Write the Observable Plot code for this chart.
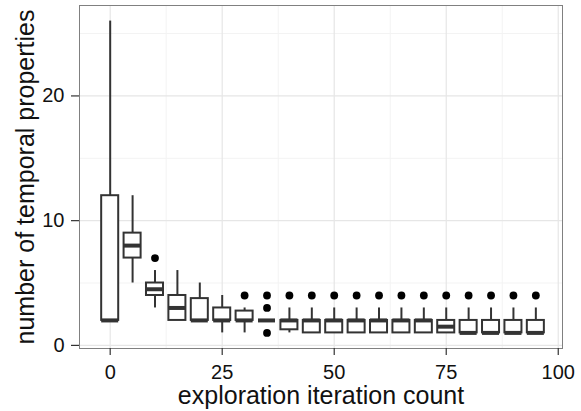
<!DOCTYPE html>
<html>
<head>
<meta charset="utf-8">
<script src="https://cdn.jsdelivr.net/npm/d3@7"></script>
<script src="https://cdn.jsdelivr.net/npm/@observablehq/plot@0.6"></script>
<style>
  html, body { margin: 0; padding: 0; background: #fff; }
  #chart svg { display: block; }
</style>
</head>
<body>
<div id="chart"></div>
<script>
// Iteration counts (box positions)
const iterations = [0, 5, 10, 15, 20, 25, 30, 35, 40, 45, 50, 55, 60, 65, 70, 75, 80, 85, 90, 95];
// Box statistics
const whiskerLow  = [2, 5, 3, 2, 2,    1, 1,    2, 1,    1, 1, 1, 1, 1, 1, 1,   1, 1, 1, 1];
const q1          = [2, 7, 4, 2, 2,    2, 2,    2, 1.25, 1, 1, 1, 1, 1, 1, 1,   1, 1, 1, 1];
const medians     = [2, 8, 4.5, 3, 2,  2, 2,    2, 2,    2, 2, 2, 2, 2, 2, 1.5, 1, 1, 1, 1];
const q3          = [12, 9, 5, 4, 3.75, 3, 2.75, 2, 2,   2, 2, 2, 2, 2, 2, 2,   2, 2, 2, 2];
const whiskerHigh = [26, 12, 6, 6, 5,  4, 3,    2, 3,    3, 3, 3, 3, 3, 3, 3,   3, 3, 3, 3];
// Outliers
const outlierX = [10, 30, 35, 35, 35, 40, 45, 50, 55, 60, 65, 70, 75, 80, 85, 90, 95];
const outlierY = [7,  4,  1,  3,  4,  4,  4,  4,  4,  4,  4,  4,  4,  4,  4,  4,  4];
// Axis ticks and grid
const xTicks = [0, 25, 50, 75, 100];
const xMinor = [12.5, 37.5, 62.5, 87.5];
const yTicks = [0, 10, 20];
const yMinor = [5, 15, 25];
const xTitle = "exploration iteration count";
const yTitle = "number of temporal properties";

const boxes = iterations.map((x, i) => ({
  x, lo: whiskerLow[i], q1: q1[i], med: medians[i], q3: q3[i], hi: whiskerHigh[i]
}));
const outliers = outlierX.map((x, i) => ({x, y: outlierY[i]}));
const hw = 1.9;
const ink = "#333333";

const chart = Plot.plot({
  width: 581,
  height: 411,
  marginLeft: 79,
  marginRight: 19,
  marginTop: 5,
  marginBottom: 63,
  style: {fontFamily: "'Liberation Sans', Arial, Helvetica, sans-serif", background: "#fff", color: "#111"},
  x: {domain: [-6.85, 100.95], axis: null},
  y: {domain: [-0.25, 27.25], axis: null},
  marks: [
    Plot.ruleX(xMinor, {stroke: "#f3f3f3", strokeWidth: 1}),
    Plot.ruleY(yMinor, {stroke: "#f3f3f3", strokeWidth: 1}),
    Plot.ruleX(xTicks, {stroke: "#e6e6e6", strokeWidth: 1.2}),
    Plot.ruleY(yTicks, {stroke: "#e6e6e6", strokeWidth: 1.2}),
    // whiskers
    Plot.ruleX(boxes, {x: "x", y1: "lo", y2: "q1", stroke: ink, strokeWidth: 2}),
    Plot.ruleX(boxes, {x: "x", y1: "q3", y2: "hi", stroke: ink, strokeWidth: 2}),
    // boxes
    Plot.rect(boxes, {x1: d => d.x - hw, x2: d => d.x + hw, y1: "q1", y2: "q3", fill: "white", stroke: ink, strokeWidth: 2}),
    // medians
    Plot.ruleY(boxes, {y: "med", x1: d => d.x - hw, x2: d => d.x + hw, stroke: ink, strokeWidth: 4}),
    // outliers
    Plot.dot(outliers, {x: "x", y: "y", r: 3.9, fill: "black", stroke: "none"}),
    Plot.frame({stroke: "#808080", strokeWidth: 1}),
    Plot.axisX(xTicks, {anchor: "bottom", tickSize: 7, tickPadding: 9, fontSize: 20, stroke: ink, strokeWidth: 1.2, label: null}),
    Plot.axisY(yTicks, {anchor: "left", tickSize: 8, tickPadding: 7, fontSize: 20, stroke: ink, strokeWidth: 1.2, label: null}),
    Plot.text([xTitle], {frameAnchor: "bottom", dy: 47, text: d => d, fontSize: 25, lineAnchor: "middle", textAnchor: "middle", fill: "#111"}),
    Plot.text([yTitle], {frameAnchor: "left", dx: -54, rotate: -90, text: d => d, fontSize: 25, lineAnchor: "middle", textAnchor: "middle", fill: "#111"})
  ]
});
document.getElementById("chart").appendChild(chart);
</script>
</body>
</html>
